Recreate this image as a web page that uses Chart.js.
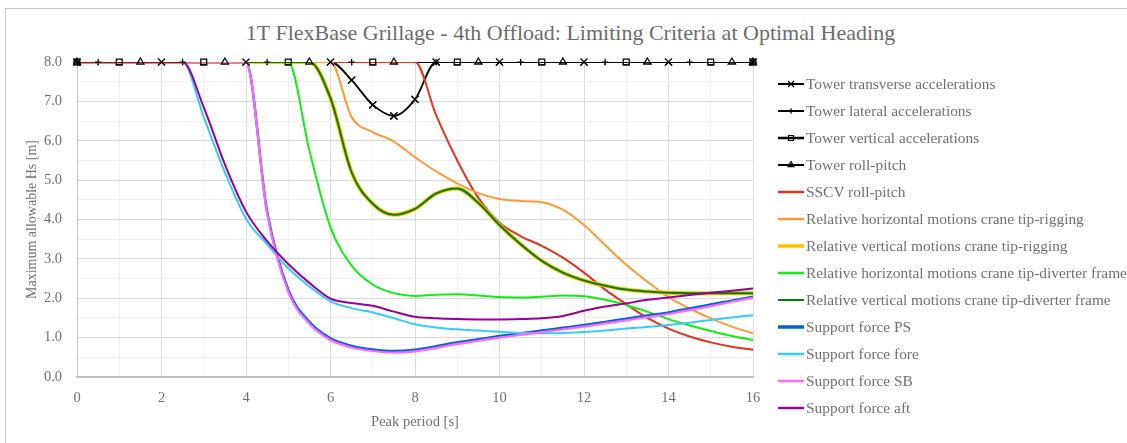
<!DOCTYPE html>
<html>
<head>
<meta charset="utf-8">
<title>Limiting Criteria at Optimal Heading</title>
<script src="https://cdn.jsdelivr.net/npm/chart.js@4.4.1/dist/chart.umd.min.js"></script>
<style>
  html, body { margin: 0; padding: 0; background: #fff; overflow: hidden; }
  #wrap { position: relative; width: 1127px; height: 443px; overflow: hidden; }
  #frame { position: absolute; left: 5px; top: 8px; width: 1140px; height: 460px;
           border: 1px solid #c4c4c4; box-sizing: border-box; }
  #title { position: absolute; left: 0; top: 21px; width: 1141px; text-align: center;
           font-family: "Liberation Serif", "DejaVu Serif", serif; font-size: 22px;
           line-height: 24px; color: #6c6c6c; }
  #chart { position: absolute; left: 0; top: 0; }
  #legend { position: absolute; left: 778px; top: 70px;
            font-family: "Liberation Serif", "DejaVu Serif", serif; font-size: 15.4px; color: #707070; }
  #legend .item { display: flex; align-items: center; height: 27px; white-space: nowrap; }
  #legend canvas { display: block; margin-right: 2px; }
</style>
</head>
<body>
<div id="wrap">
  <div id="frame"></div>
  <div id="title">1T FlexBase Grillage - 4th Offload: Limiting Criteria at Optimal Heading</div>
  <canvas id="chart" width="1127" height="443"></canvas>
  <div id="legend"></div>
</div>
<script>
// Peak periods [s] at which the motion / force criteria were evaluated
const periods = [0, 0.5, 1, 1.5, 2, 2.5, 3, 3.5, 4, 4.5, 5, 5.5, 6, 6.5, 7, 7.5, 8,
                 8.5, 9, 9.5, 10, 10.5, 11, 11.5, 12, 12.5, 13, 13.5, 14, 14.5, 15, 15.5, 16];

// Tower criteria are sampled at their own periods
const transverseT  = [0, 2, 4, 6, 6.5, 7, 7.5, 8, 8.5, 10, 12, 14, 16];
const transverseHs = [8, 8, 8, 8, 7.54, 6.91, 6.63, 7.05, 8, 8, 8, 8, 8];
const lateralT     = [0, 0.5, 2.5, 4.5, 6.5, 8.5, 10.5, 12.5, 14.5, 16];
const lateralHs    = [8, 8, 8, 8, 8, 8, 8, 8, 8, 8];
const verticalT    = [0, 1, 3, 5, 7, 9, 11, 13, 15, 16];
const verticalHs   = [8, 8, 8, 8, 8, 8, 8, 8, 8, 8];
const rollPitchT   = [0, 1.5, 3.5, 5.5, 7.5, 9.5, 11.5, 13.5, 15.5, 16];
const rollPitchHs  = [8, 8, 8, 8, 8, 8, 8, 8, 8, 8];

// Maximum allowable Hs [m] per criterion, one value per entry of `periods`
const sscvRollPitch = [8, 8, 8, 8, 8, 8, 8, 8, 8, 8, 8, 8, 8, 8, 8, 8, 8,
  6.65, 5.5, 4.55, 3.92, 3.58, 3.33, 3.03, 2.65, 2.22, 1.85, 1.5, 1.23, 1.03, 0.88, 0.77, 0.69];
const horizTipRigging = [8, 8, 8, 8, 8, 8, 8, 8, 8, 8, 8, 8, 8,
  6.6, 6.22, 5.98, 5.58, 5.22, 4.92, 4.67, 4.52, 4.47, 4.44, 4.25, 3.86, 3.35, 2.85, 2.42, 2.03, 1.74, 1.49, 1.28, 1.11];
const vertTipRigging = [8, 8, 8, 8, 8, 8, 8, 8, 8, 8, 8, 8,
  7.08, 5.2, 4.4, 4.12, 4.27, 4.66, 4.79, 4.42, 3.86, 3.37, 2.95, 2.65, 2.45, 2.32, 2.22, 2.17, 2.14, 2.13, 2.13, 2.13, 2.13];
const horizTipDiverter = [8, 8, 8, 8, 8, 8, 8, 8, 8, 8, 8,
  5.75, 3.8, 2.83, 2.35, 2.13, 2.06, 2.09, 2.1, 2.07, 2.03, 2.02, 2.04, 2.07, 2.05, 1.96, 1.83, 1.66, 1.47, 1.31, 1.17, 1.04, 0.94];
const vertTipDiverter = [8, 8, 8, 8, 8, 8, 8, 8, 8, 8, 8, 8,
  7.08, 5.2, 4.4, 4.12, 4.27, 4.66, 4.79, 4.42, 3.86, 3.37, 2.95, 2.65, 2.45, 2.32, 2.22, 2.17, 2.14, 2.13, 2.13, 2.13, 2.13];
const supportPS = [8, 8, 8, 8, 8, 8, 8, 8, 8,
  4.2, 2.22, 1.4, 0.98, 0.79, 0.70, 0.66, 0.69, 0.78, 0.88, 0.96, 1.04, 1.11, 1.18, 1.25, 1.32, 1.40, 1.48, 1.56, 1.64, 1.74, 1.84, 1.94, 2.04];
const supportFore = [8, 8, 8, 8, 8, 8,
  6.6, 5.2, 4.02, 3.37, 2.76, 2.3, 1.92, 1.75, 1.64, 1.49, 1.34, 1.26, 1.21, 1.18, 1.15, 1.12, 1.11, 1.12, 1.14, 1.18, 1.23, 1.27, 1.32, 1.38, 1.45, 1.51, 1.57];
const supportSB = [8, 8, 8, 8, 8, 8, 8, 8, 8,
  4.15, 2.16, 1.35, 0.94, 0.75, 0.66, 0.62, 0.65, 0.74, 0.84, 0.92, 1.00, 1.07, 1.14, 1.21, 1.28, 1.36, 1.44, 1.52, 1.60, 1.70, 1.80, 1.91, 2.01];
const supportAft = [8, 8, 8, 8, 8, 8,
  6.85, 5.4, 4.2, 3.45, 2.87, 2.39, 1.99, 1.88, 1.81, 1.66, 1.53, 1.49, 1.47, 1.46, 1.46, 1.47, 1.49, 1.55, 1.68, 1.79, 1.87, 1.96, 2.02, 2.08, 2.14, 2.19, 2.25];

// Y-axis tick labels (major ticks only)
const hsTickLabels = ['0.0', '1.0', '2.0', '3.0', '4.0', '5.0', '6.0', '7.0', '8.0'];

const TEXT = '#707070';
const FONT = '"Liberation Serif", "DejaVu Serif", serif';

const series = [
  { label: 'Tower transverse accelerations', x: transverseT, y: transverseHs, color: '#000000', width: 1.8, key: 2, marker: 'crossRot', r: 5 },
  { label: 'Tower lateral accelerations', x: lateralT, y: lateralHs, color: '#000000', width: 1.8, key: 2, marker: 'cross', r: 3.2 },
  { label: 'Tower vertical accelerations', x: verticalT, y: verticalHs, color: '#000000', width: 1.8, key: 2.5, marker: 'rect', r: 4.2 },
  { label: 'Tower roll-pitch', x: rollPitchT, y: rollPitchHs, color: '#000000', width: 1.8, key: 2, marker: 'triangle', r: 4 },
  { label: 'SSCV roll-pitch', x: periods, y: sscvRollPitch, color: '#e3321f', width: 2, key: 2.5 },
  { label: 'Relative horizontal motions crane tip-rigging', x: periods, y: horizTipRigging, color: '#ff9933', width: 2, key: 2.5 },
  { label: 'Relative vertical motions crane tip-rigging', x: periods, y: vertTipRigging, color: '#ffc000', width: 4, key: 3.5 },
  { label: 'Relative horizontal motions crane tip-diverter frame', x: periods, y: horizTipDiverter, color: '#11ee11', width: 2, key: 2.5 },
  { label: 'Relative vertical motions crane tip-diverter frame', x: periods, y: vertTipDiverter, color: '#008000', width: 2, key: 2 },
  { label: 'Support force PS', x: periods, y: supportPS, color: '#0066cc', width: 2.5, key: 3.5 },
  { label: 'Support force fore', x: periods, y: supportFore, color: '#33ccff', width: 2, key: 2.5 },
  { label: 'Support force SB', x: periods, y: supportSB, color: '#ff66ff', width: 2.2, key: 2.5 },
  { label: 'Support force aft', x: periods, y: supportAft, color: '#990099', width: 2, key: 2.5 }
];

const n = series.length;
const datasets = series.map((s, i) => ({
  label: s.label,
  data: s.x.map((x, j) => ({ x: x, y: s.y[j] })),
  borderColor: s.color,
  backgroundColor: s.color,
  borderWidth: s.width,
  pointStyle: s.marker || 'circle',
  pointRadius: s.marker ? s.r : 0,
  pointHoverRadius: s.marker ? s.r : 0,
  pointBorderColor: '#000000',
  pointBackgroundColor: 'rgba(0,0,0,0)',
  pointBorderWidth: 1.2,
  cubicInterpolationMode: 'monotone',
  order: n - i
}));

// Tower markers stay visible above the coloured curves
const markersOnTop = {
  id: 'markersOnTop',
  afterDatasetsDraw(chart) {
    const ctx = chart.ctx;
    series.forEach((s, i) => {
      if (!s.marker) return;
      chart.getDatasetMeta(i).data.forEach(pt => pt.draw(ctx, chart.chartArea));
    });
  }
};

Chart.defaults.font.family = FONT;
Chart.defaults.color = TEXT;

const chart = new Chart(document.getElementById('chart'), {
  type: 'line',
  data: { datasets: datasets },
  plugins: [markersOnTop],
  options: {
    responsive: false,
    animation: false,
    devicePixelRatio: 1,
    events: [],
    layout: { padding: { top: 62, right: 374, bottom: 0, left: 0 } },
    plugins: { legend: { display: false }, tooltip: { enabled: false }, title: { display: false } },
    scales: {
      x: {
        type: 'linear', min: 0, max: 16,
        afterFit: s => { s.height = 66; },
        ticks: {
          stepSize: 1, autoSkip: false, maxRotation: 0, padding: 12,
          font: { size: 14.5 }, color: TEXT,
          callback: v => (v % 2 === 0 ? String(v) : '')
        },
        grid: {
          drawTicks: false, lineWidth: 1,
          color: c => (c.tick && c.tick.value % 2 === 0 ? '#dadada' : '#f0f0f0')
        },
        border: { color: '#bfbfbf', width: 2 },
        title: { display: true, text: 'Peak period [s]', font: { size: 14.5 }, color: TEXT, padding: { top: 0, bottom: 12 } }
      },
      y: {
        min: 0, max: 8,
        afterFit: s => { s.width = 77; },
        ticks: {
          stepSize: 0.5, autoSkip: false, padding: 15,
          font: { size: 14.5 }, color: TEXT,
          callback: v => (Number.isInteger(v) ? hsTickLabels[v] : '')
        },
        grid: {
          drawTicks: false, lineWidth: 1,
          color: c => (c.tick && Number.isInteger(c.tick.value) ? '#d9d9d9' : '#f0f0f0')
        },
        border: { color: '#c4c4c4', width: 1 },
        title: { display: true, text: 'Maximum allowable Hs [m]', font: { size: 14 }, color: TEXT, padding: { top: 24, bottom: 0 } }
      }
    }
  }
});

// Legend: a line sample (with marker for tower criteria) next to each label
const legendEl = document.getElementById('legend');
chart.data.datasets.forEach((ds, i) => {
  const s = series[i];
  const row = document.createElement('div');
  row.className = 'item';
  const c = document.createElement('canvas');
  c.width = 26; c.height = 14;
  const g = c.getContext('2d');
  g.strokeStyle = ds.borderColor;
  g.lineWidth = s.key;
  g.beginPath(); g.moveTo(0, 7); g.lineTo(26, 7); g.stroke();
  if (s.marker) {
    g.strokeStyle = '#000000';
    g.fillStyle = 'rgba(0,0,0,0)';
    g.lineWidth = 1.2;
    Chart.helpers.drawPoint(g, { pointStyle: s.marker, radius: s.r * 0.85, rotation: 0, borderWidth: 1.2 }, 13, 7);
  }
  const t = document.createElement('span');
  t.textContent = ds.label;
  row.appendChild(c);
  row.appendChild(t);
  legendEl.appendChild(row);
});
</script>
</body>
</html>
